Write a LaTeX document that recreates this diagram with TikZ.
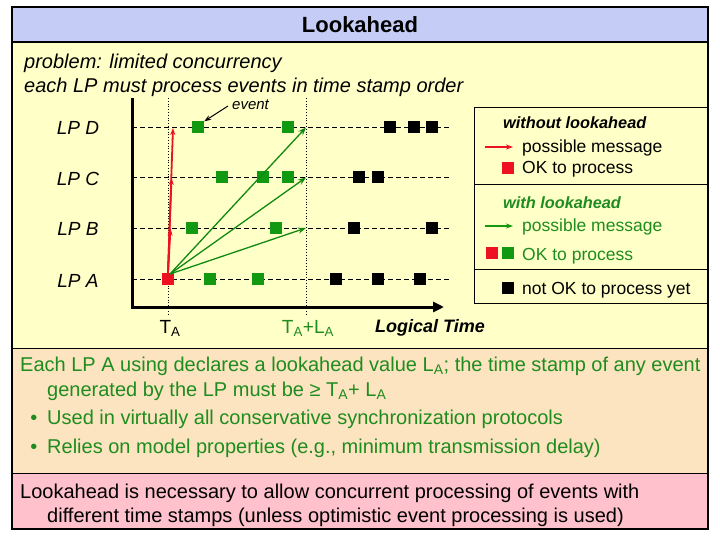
\documentclass[tikz,border=0pt]{standalone}
\usepackage{fontspec}
\setmainfont{Liberation Sans}
\usetikzlibrary{arrows.meta}
\definecolor{titleblue}{RGB}{197,205,247}
\definecolor{bgyellow}{RGB}{255,255,200}
\definecolor{bgorange}{RGB}{252,228,192}
\definecolor{bgpink}{RGB}{255,193,204}
\definecolor{sqgreen}{RGB}{17,153,17}
\definecolor{sqred}{RGB}{238,17,34}
\definecolor{txtgreen}{RGB}{30,140,30}
\tikzset{
  sq/.style={rectangle, minimum size=12pt, inner sep=0pt, draw=none},
  gsq/.style={sq, fill=sqgreen},
  bsq/.style={sq, fill=black},
  rsq/.style={sq, fill=sqred},
  body/.style={anchor=base west, inner sep=0pt, font=\fontsize{20}{24}\selectfont},
  lplab/.style={anchor=base, inner sep=0pt, font=\fontsize{19}{22}\itshape},
  leg/.style={anchor=base west, inner sep=0pt, font=\fontsize{17.5}{20}\selectfont},
  legh/.style={anchor=base west, inner sep=0pt, font=\fontsize{16.3}{20}\bfseries\itshape},
  lpline/.style={dash pattern=on 5pt off 3pt, line width=0.9pt},
  redarr/.style={draw=sqred, line width=1.8pt, -{Stealth[length=7pt,width=5pt]}},
  grnarr/.style={draw=sqgreen!90!black, line width=1.3pt, -{Stealth[length=8pt,width=6pt]}},
}
\begin{document}
\begin{tikzpicture}[x=1pt,y=-1pt]
\useasboundingbox (0,0) rectangle (720,540);
\fill[white] (0,0) rectangle (720,540);
% panels
\fill[titleblue] (12,7) rectangle (708,42);
\fill[bgyellow] (12,42) rectangle (708,348);
\fill[bgorange] (12,348) rectangle (708,473);
\fill[bgpink] (12,473) rectangle (708,529);
\draw[line width=1.2pt] (12,7) rectangle (708,529);
\draw[line width=2pt] (12,42) -- (708,42);
\draw[line width=1pt] (12,348) -- (708,348);
\draw[line width=1pt] (12,473) -- (708,473);
% title
\node[anchor=base, inner sep=0pt, font=\fontsize{22}{26}\bfseries] (title) at (360,33) {Lookahead};
% top text
\node[body, font=\fontsize{20}{24}\itshape] (prob) at (24,69) {problem: limited concurrency};
\node[body, font=\fontsize{20}{24}\itshape] (each) at (24,93) {each LP must process events in time stamp order};
% axes
\draw[line width=3pt, line join=miter, -{Triangle[length=11pt,width=10pt]}] (132,98) -- (132,307) -- (444,307);
\draw[dotted, line width=0.8pt] (168,98) -- (168,315);
\draw[dotted, line width=0.8pt] (306,98) -- (306,315);
% LP lines
\draw[lpline] (132,127.5) -- (450,127.5);
\draw[lpline] (132,177.5) -- (450,177.5);
\draw[lpline] (132,228) -- (450,228);
\draw[lpline] (132,279) -- (450,279);
% LP labels
\node[lplab] (lpd) at (78,135) {LP D};
\node[lplab] (lpc) at (78,185.5) {LP C};
\node[lplab] (lpb) at (78,236) {LP B};
\node[lplab] (lpa) at (78,287) {LP A};
% squares LP D
\node[gsq] (d1) at (198,127.5) {};
\node[gsq] (d2) at (288,127.5) {};
\node[bsq] (d3) at (390,127.5) {};
\node[bsq] (d4) at (414,127.5) {};
\node[bsq] (d5) at (432,127.5) {};
% LP C
\node[gsq] (c1) at (222,177.5) {};
\node[gsq] (c2) at (263,177.5) {};
\node[gsq] (c3) at (288,177.5) {};
\node[bsq] (c4) at (359,177.5) {};
\node[bsq] (c5) at (378,177.5) {};
% LP B
\node[gsq] (b1) at (192,228) {};
\node[gsq] (b2) at (276,228) {};
\node[bsq] (b3) at (354,228) {};
\node[bsq] (b4) at (432,228) {};
% LP A
\node[rsq] (a1) at (168,279) {};
\node[gsq] (a2) at (210,279) {};
\node[gsq] (a3) at (258,279) {};
\node[bsq] (a4) at (336,279) {};
\node[bsq] (a5) at (378,279) {};
\node[bsq] (a6) at (420,279) {};
% targets
\coordinate (rd) at (173,128);
\coordinate (rc) at (171.5,178);
\coordinate (rb) at (170.5,228.5);
\coordinate (gd) at (306,127.5);
\coordinate (gc) at (306,177.5);
\coordinate (gb) at (306,228);
\coordinate (ga) at (170,274);
% arrows
\draw[grnarr] (ga) -- (gd);
\draw[grnarr] (ga) -- (gc);
\draw[grnarr] (ga) -- (gb);
\draw[redarr] (a1.north) -- (rb);
\draw[redarr] (a1.north) -- (rc);
\draw[redarr] (a1.north) -- (rd);
% event annotation
\node[anchor=base west, inner sep=0pt, font=\fontsize{15}{18}\itshape] (evt) at (232,110) {event};
\coordinate (evs) at (228,106);
\draw[line width=1pt, -{Stealth[length=7pt,width=5pt]}] (evs) -- (d1.north east);
% axis labels
\node[anchor=base, inner sep=0pt, font=\fontsize{19}{22}\selectfont] (ta) at (170,333) {T\textsubscript{A}};
\node[anchor=base, inner sep=0pt, font=\fontsize{19}{22}\selectfont, text=txtgreen] (tala) at (308,333) {T\textsubscript{A}+L\textsubscript{A}};
\node[anchor=base west, inner sep=0pt, font=\fontsize{18}{22}\bfseries\itshape] (lt) at (375,332) {Logical Time};
% legend
\draw[line width=0.9pt] (474,107) rectangle (708,303);
\draw[line width=0.9pt] (474,184) -- (708,184);
\draw[line width=0.9pt] (474,269) -- (708,269);
\node[legh] (wo) at (503,129) {without lookahead};
\coordinate (lr1) at (485,147);
\coordinate (lr2) at (513,147);
\draw[draw=sqred, line width=1.5pt, -{Stealth[length=7pt,width=5pt]}] (lr1) -- (lr2);
\node[leg] (pm1) at (522,153) {possible message};
\node[rsq] (lrs) at (508,168) {};
\node[leg] (ok1) at (522,174) {OK to process};
\node[legh, text=txtgreen] (wl) at (503,208) {with lookahead};
\coordinate (lg1) at (485,226);
\coordinate (lg2) at (513,226);
\draw[draw=sqgreen, line width=1.2pt, -{Stealth[length=7pt,width=5pt]}] (lg1) -- (lg2);
\node[leg, text=txtgreen] (pm2) at (522,232) {possible message};
\node[rsq] (lrs2) at (492,253) {};
\node[gsq] (lgs2) at (508,253) {};
\node[leg, text=txtgreen] (ok2) at (522,260) {OK to process};
\node[bsq] (lbs) at (508,288) {};
\node[leg] (nok) at (522,294) {not OK to process yet};
% lower text
\node[body, text=txtgreen] (l1) at (20,371) {Each LP A using declares a lookahead value L\textsubscript{A}; the time stamp of any event};
\node[body, text=txtgreen] (l2) at (47,396) {generated by the LP must be ≥ T\textsubscript{A}+ L\textsubscript{A}};
\node[body, text=txtgreen, anchor=base] (bu1) at (34,424) {•};
\node[body, text=txtgreen] (l3) at (47,424) {Used in virtually all conservative synchronization protocols};
\node[body, text=txtgreen, anchor=base] (bu2) at (34,453) {•};
\node[body, text=txtgreen] (l4) at (47,453) {Relies on model properties (e.g., minimum transmission delay)};
\node[body] (p1) at (20,498) {Lookahead is necessary to allow concurrent processing of events with};
\node[body] (p2) at (47,522) {different time stamps (unless optimistic event processing is used)};
\end{tikzpicture}
\end{document}
